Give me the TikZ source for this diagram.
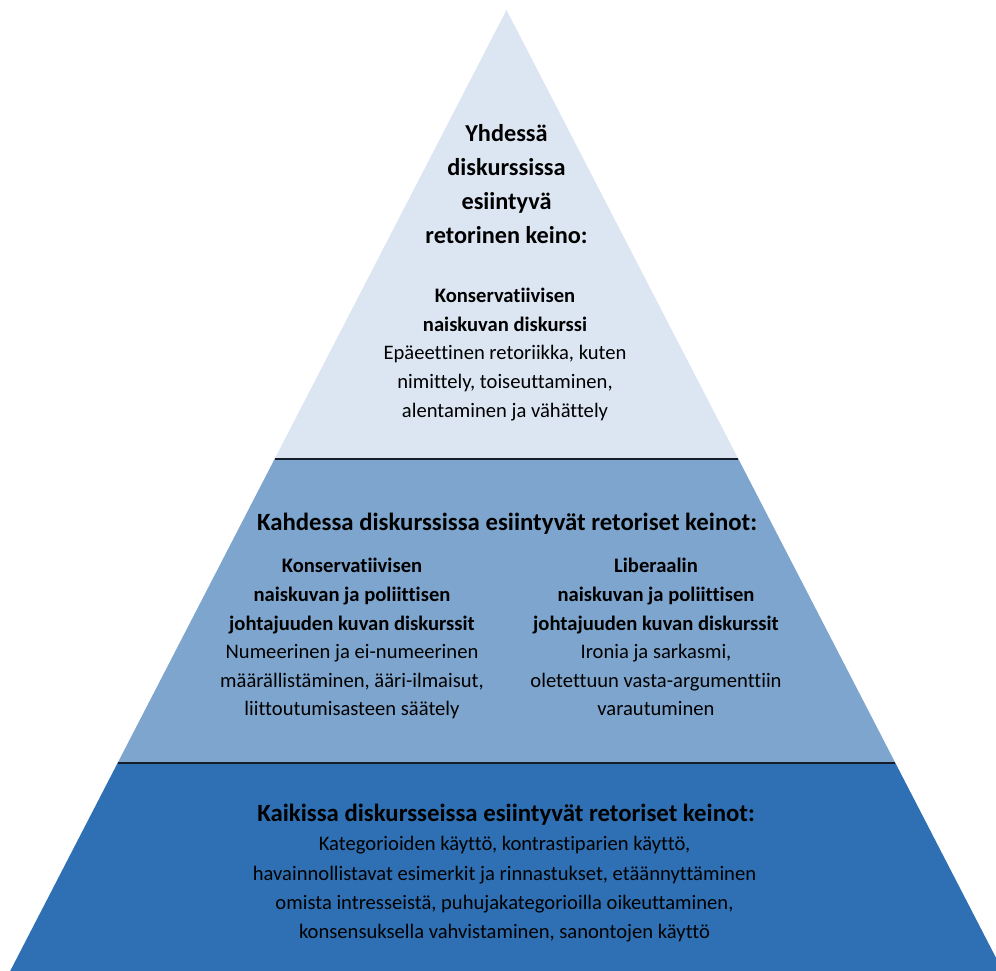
\documentclass[tikz,border=0pt]{standalone}
\usepackage{fontspec}
\setmainfont{Carlito}[RawFeature={-liga;-clig;-dlig}]
\usetikzlibrary{calc}
\definecolor{topfill}{RGB}{220,230,243}
\definecolor{midfill}{RGB}{126,165,205}
\definecolor{botfill}{RGB}{46,112,179}
\definecolor{sepline}{RGB}{22,30,42}
\begin{document}
\begin{tikzpicture}[x=1pt,y=1pt,
  hdr/.style={align=center,inner sep=0pt,text=black,
    font=\fontsize{24.8}{33.8}\selectfont\bfseries,
    execute at begin node=\strut,execute at end node=\strut},
  tophdrstyle/.style={hdr,font=\fontsize{24.3}{33.8}\selectfont\bfseries},
  bodytext/.style={align=center,inner sep=0pt,text=black,
    font=\fontsize{20.6}{28.6}\selectfont,
    execute at begin node=\strut,execute at end node=\strut},
  botbodytext/.style={bodytext,font=\fontsize{20.6}{29.2}\selectfont},
  sep/.style={draw=sepline,line width=1.6pt}]
\useasboundingbox (0,0) rectangle (996,971);
\clip (0,0) rectangle (996,971);
\coordinate (A) at (506.5,961);
\coordinate (BL) at (10.2,0);
\coordinate (BR) at (1002.8,0);
\coordinate (L1) at ($(A)!0.4672!(BL)$);
\coordinate (R1) at ($(A)!0.4672!(BR)$);
\coordinate (L2) at ($(A)!0.7836!(BL)$);
\coordinate (R2) at ($(A)!0.7836!(BR)$);
% bands
\fill[topfill] (A) -- (L1) -- (R1) -- cycle;
\fill[midfill] (L1) -- (L2) -- (R2) -- (R1) -- cycle;
\fill[botfill] (L2) -- (BL) -- (BR) -- (R2) -- cycle;
\draw[sep] (L1) -- (R1);
\draw[sep] (L2) -- (R2);
% top level
\node[tophdrstyle] (tophdr) at (506.5,782) {Yhdessä\\diskurssissa\\esiintyvä\\retorinen keino:};
\node[bodytext] (topbody) at (505,614) {\textbf{Konservatiivisen}\\\textbf{naiskuvan diskurssi}\\Epäeettinen retoriikka, kuten\\nimittely, toiseuttaminen,\\alentaminen ja vähättely};
% middle level
\node[hdr] (midhdr) at (507,447.5) {Kahdessa diskurssissa esiintyvät retoriset keinot:};
\node[bodytext] (midleft) at (352,329.5) {\textbf{Konservatiivisen}\\\textbf{naiskuvan ja poliittisen}\\\textbf{johtajuuden kuvan diskurssit}\\Numeerinen ja ei-numeerinen\\määrällistäminen, ääri-ilmaisut,\\liittoutumisasteen säätely};
\node[bodytext] (midright) at (656,329.5) {\textbf{Liberaalin}\\\textbf{naiskuvan ja poliittisen}\\\textbf{johtajuuden kuvan diskurssit}\\Ironia ja sarkasmi,\\oletettuun vasta-argumenttiin\\varautuminen};
% bottom level
\node[hdr] (bothdr) at (506,156) {Kaikissa diskursseissa esiintyvät retoriset keinot:};
\node[botbodytext] (botbody) at (504.5,79) {Kategorioiden käyttö, kontrastiparien käyttö,\\havainnollistavat esimerkit ja rinnastukset, etäännyttäminen\\omista intresseistä, puhujakategorioilla oikeuttaminen,\\konsensuksella vahvistaminen, sanontojen käyttö};
\end{tikzpicture}
\end{document}
